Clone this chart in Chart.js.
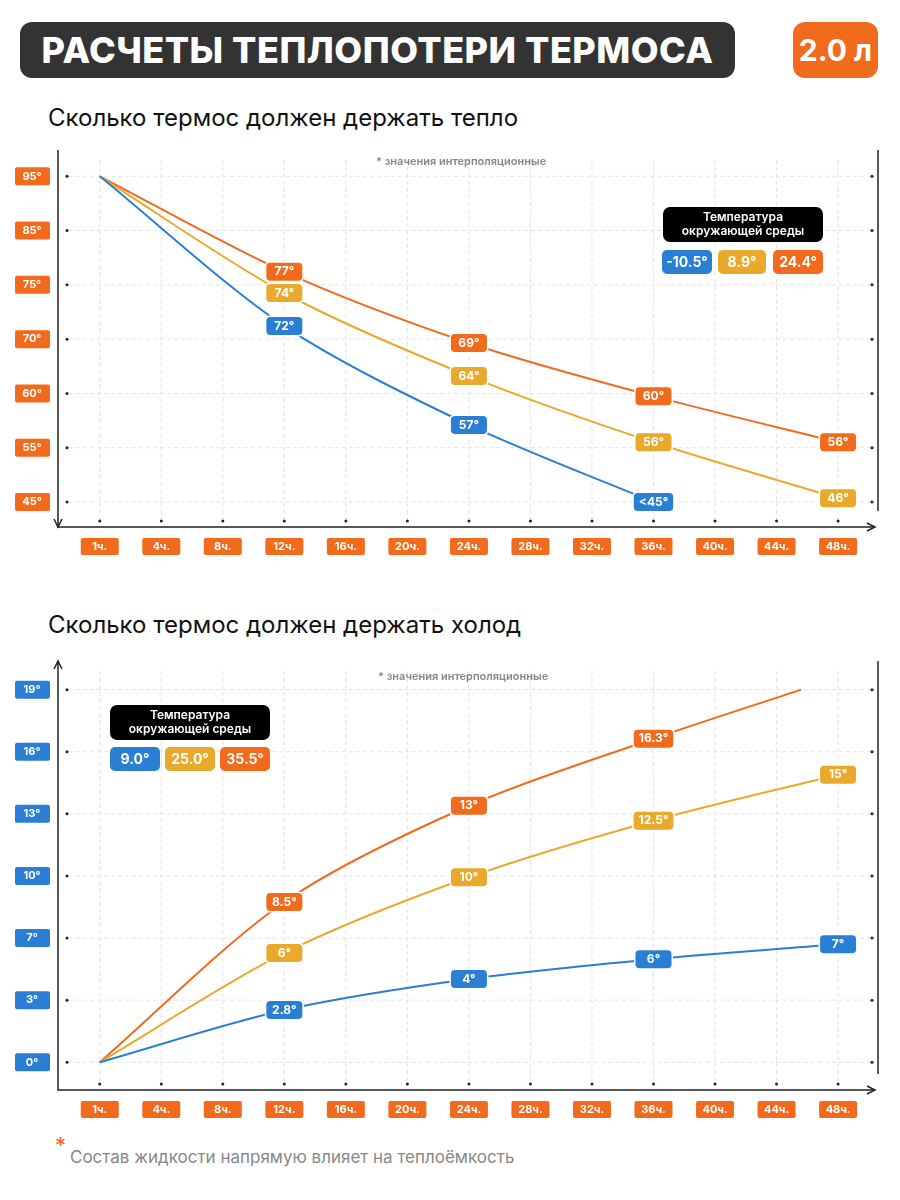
<!DOCTYPE html>
<html><head><meta charset="utf-8">
<script src="https://cdn.jsdelivr.net/npm/chart.js@4"></script>
<style>
body{margin:0;width:900px;height:1200px;background:#fff;font-family:Inter,"Noto Sans",sans-serif;position:relative;overflow:hidden}
.abs{position:absolute}
.title{left:20px;top:22px;width:715px;height:56px;background:#333;border-radius:12px;color:#fff;font-weight:800;font-size:36px;line-height:56px;text-align:center;letter-spacing:0.5px}
.vol{left:793px;top:22px;width:85px;height:56px;background:#f26a1b;border-radius:12px;color:#fff;font-weight:700;font-size:30px;line-height:56px;text-align:center}
.sub{left:48px;font-size:24px;color:#111}
.note{font-size:11px;color:#888;font-weight:600}
.lg{background:#000;color:#fff;font-size:12px;font-weight:600;text-align:center;border-radius:7px;line-height:14px;padding-top:3px;height:32px;width:160px}
.bd{color:#fff;font-size:14px;font-weight:700;text-align:center;border-radius:5px;height:24px;line-height:24px}
canvas{position:absolute;left:0}
</style></head><body>
<div class="abs title">РАСЧЕТЫ ТЕПЛОПОТЕРИ ТЕРМОСА</div>
<div class="abs vol">2.0 л</div>
<div class="abs sub" style="top:103px">Сколько термос должен держать тепло</div>
<div class="abs sub" style="top:610px">Сколько термос должен держать холод</div>
<canvas id="c1" width="900" height="430" style="top:140px"></canvas>
<canvas id="c2" width="900" height="480" style="top:650px"></canvas>
<div class="abs note" style="left:376px;top:154px">* значения интерполяционные</div>
<div class="abs note" style="left:378px;top:669px">* значения интерполяционные</div>
<div class="abs lg" style="left:663px;top:207px">Температура<br>окружающей среды</div>
<div class="abs bd" style="left:662px;top:250px;width:50px;background:#2a7fd4">-10.5°</div>
<div class="abs bd" style="left:718px;top:250px;width:48px;background:#e8a92c">8.9°</div>
<div class="abs bd" style="left:773px;top:250px;width:50px;background:#f26a1b">24.4°</div>
<div class="abs lg" style="left:110px;top:705px">Температура<br>окружающей среды</div>
<div class="abs bd" style="left:110px;top:747px;width:50px;background:#2a7fd4">9.0°</div>
<div class="abs bd" style="left:165px;top:747px;width:50px;background:#e8a92c">25.0°</div>
<div class="abs bd" style="left:220px;top:747px;width:50px;background:#f26a1b">35.5°</div>
<div class="abs" style="left:55px;top:1132px;color:#f26a1b;font-size:22px">*</div>
<div class="abs" style="left:70px;top:1147px;color:#888;font-size:17px">Состав жидкости напрямую влияет на теплоёмкость</div>
<script>
var ORANGE='#f26a1b', YELLOW='#e8a92c', BLUE='#2a7fd4';
var xLabels=['1ч.','4ч.','8ч.','12ч.','16ч.','20ч.','24ч.','28ч.','32ч.','36ч.','40ч.','44ч.','48ч.'];
// heat chart: y ticks are equally spaced labels (index positions)
var heatTicks=['45°','55°','60°','70°','75°','85°','95°'];
var heatX=[0,3,6,9,12];
var heatOrange=[6,4.24,2.93,1.95,1.10];
var heatYellow=[6,3.85,2.32,1.10,0.07];
var heatBlueX=[0,3,6,9];
var heatBlue=[6,3.24,1.42,0];
var heatOrangeLbl=[null,'77°','69°','60°','56°'];
var heatYellowLbl=[null,'74°','64°','56°','46°'];
var heatBlueLbl=[null,'72°','57°','<45°'];
// cold chart
var coldTicks=['0°','3°','7°','10°','13°','16°','19°'];
var coldOrangeX=[0,3,6,9,11.4];
var coldOrange=[0,2.58,4.13,5.21,6.0];
var coldX=[0,3,6,9,12];
var coldYellow=[0,1.76,2.98,3.89,4.63];
var coldBlue=[0,0.84,1.34,1.66,1.90];
var coldOrangeLbl=[null,'8.5°','13°','16.3°',null];
var coldYellowLbl=[null,'6°','10°','12.5°','15°'];
var coldBlueLbl=[null,'2.8°','4°','6°','7°'];

function pts(xs,ys){return xs.map(function(x,i){return {x:x,y:ys[i]};});}
function rr(ctx,x,y,w,h,r){ctx.beginPath();ctx.roundRect(x,y,w,h,r);ctx.fill();}

function decor(ticks,tickColor,up){
  return {id:'decor',
  beforeDatasetsDraw:function(ch){
    var c=ch.ctx,a=ch.chartArea,xs=ch.scales.x,ys=ch.scales.y;
    c.save();
    c.strokeStyle='#e3e3e3';c.lineWidth=1;c.setLineDash([4,3]);
    for(var i=0;i<13;i++){var px=xs.getPixelForValue(i);c.beginPath();c.moveTo(px,a.top);c.lineTo(px,a.bottom);c.stroke();}
    for(var j=0;j<7;j++){var py=ys.getPixelForValue(j);c.beginPath();c.moveTo(a.left,py);c.lineTo(a.right,py);c.stroke();}
    c.setLineDash([]);
    c.strokeStyle='#222';c.lineWidth=1.5;
    var ax=58,bot=a.bottom+6;
    c.beginPath();c.moveTo(ax,a.top-10);c.lineTo(ax,bot);c.lineTo(a.right,bot);c.stroke();
    c.beginPath();c.moveTo(a.right-8,bot-4);c.lineTo(a.right,bot);c.lineTo(a.right-8,bot+4);c.stroke();
    if(up){c.beginPath();c.moveTo(ax-4,a.top-2);c.lineTo(ax,a.top-10);c.lineTo(ax+4,a.top-2);c.stroke();}
    else{c.beginPath();c.moveTo(ax-4,bot-8);c.lineTo(ax,bot);c.lineTo(ax+4,bot-8);c.stroke();}
    c.beginPath();c.moveTo(878,a.top-10);c.lineTo(878,a.bottom-10);c.stroke();
    c.fillStyle='#222';
    for(var j=0;j<7;j++){var py=ys.getPixelForValue(j);c.beginPath();c.arc(67,py,1.5,0,7);c.fill();c.beginPath();c.arc(872,py,1.5,0,7);c.fill();}
    c.font='bold 11px Inter';c.textAlign='center';c.textBaseline='middle';
    for(var i=0;i<13;i++){var px=xs.getPixelForValue(i);
      c.fillStyle='#222';c.beginPath();c.arc(px,bot-6,1.5,0,7);c.fill();
      c.fillStyle=ORANGE;rr(c,px-19,bot+11,38,17,2);c.fillStyle='#fff';c.fillText(xLabels[i],px,bot+20);}
    for(var j=0;j<7;j++){var py=ys.getPixelForValue(j);
      c.fillStyle=tickColor;rr(c,15,py-9,35,18,2);c.fillStyle='#fff';c.fillText(ticks[j],32,py);}
    c.restore();
  },
  afterDatasetsDraw:function(ch){
    var c=ch.ctx;c.save();c.font='bold 12px Inter';c.textAlign='center';c.textBaseline='middle';
    ch.data.datasets.forEach(function(ds,k){
      var meta=ch.getDatasetMeta(k);
      ds.lbl.forEach(function(t,i){if(!t)return;var p=meta.data[i];
        var w=Math.max(36,c.measureText(t).width+10);
        c.fillStyle='#fff';rr(c,p.x-w/2-1.5,p.y-10.5,w+3,21,5);
        c.fillStyle=ds.borderColor;rr(c,p.x-w/2,p.y-9,w,18,4);
        c.fillStyle='#fff';c.fillText(t,p.x,p.y);});
    });
    c.restore();
  }};
}
function ds(data,col,lbl){return {data:data,borderColor:col,lbl:lbl,borderWidth:2,pointRadius:0,tension:0.3,fill:false};}
function opts(pad){return {responsive:false,animation:false,layout:{padding:pad},
  plugins:{legend:{display:false},tooltip:{enabled:false}},
  scales:{x:{type:'linear',min:-0.5,max:12.6,display:false},y:{type:'linear',min:-0.35,max:6.3,display:false}}};}

new Chart(document.getElementById('c1'),{type:'line',
  data:{datasets:[ds(pts(heatBlueX,heatBlue),BLUE,heatBlueLbl),ds(pts(heatX,heatYellow),YELLOW,heatYellowLbl),ds(pts(heatX,heatOrange),ORANGE,heatOrangeLbl)]},
  options:opts({left:69,right:25,top:20,bottom:49}),plugins:[decor(heatTicks,ORANGE,false)]});
new Chart(document.getElementById('c2'),{type:'line',
  data:{datasets:[ds(pts(coldX,coldBlue),BLUE,coldBlueLbl),ds(pts(coldX,coldYellow),YELLOW,coldYellowLbl),ds(pts(coldOrangeX,coldOrange),ORANGE,coldOrangeLbl)]},
  options:opts({left:69,right:25,top:21,bottom:46}),plugins:[decor(coldTicks,BLUE,true)]});
</script>
</body></html>
